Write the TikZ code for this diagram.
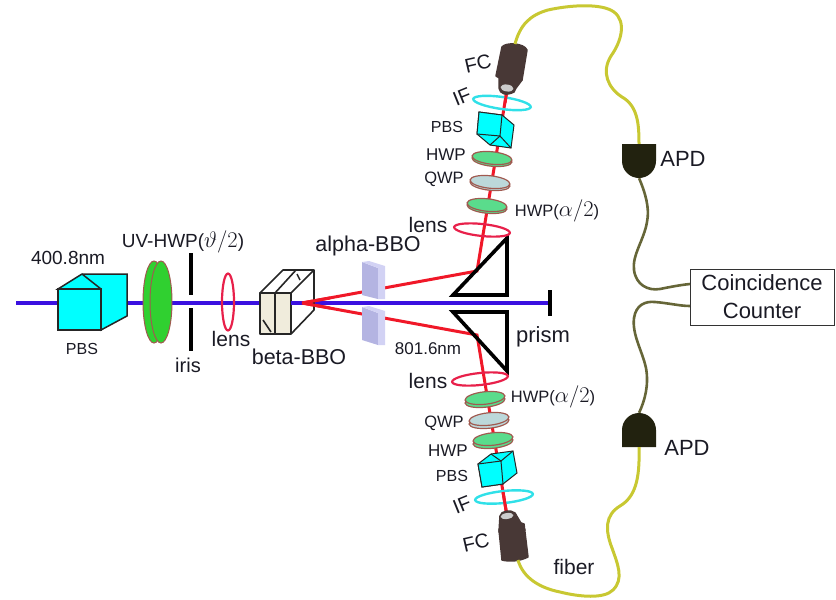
\documentclass[tikz,border=0pt]{standalone}
\usepackage{graphicx}
\usepackage{fontspec}
\setmainfont{Liberation Sans}
\usetikzlibrary{shapes.geometric}
\definecolor{beamblue}{HTML}{3A10E0}
\definecolor{beamred}{HTML}{F01828}
\definecolor{lensred}{HTML}{E8204A}
\definecolor{pbscyan}{HTML}{00FFFF}
\definecolor{uvgreen}{HTML}{30D030}
\definecolor{platebrown}{HTML}{A05A50}
\definecolor{hwpgreen}{HTML}{5ADC8C}
\definecolor{qwpgray}{HTML}{BCD8DA}
\definecolor{bbocream}{HTML}{F0ECDC}
\definecolor{alphaface}{HTML}{B4B4E2}
\definecolor{alphaside}{HTML}{D2D2F4}
\definecolor{fcbrown}{HTML}{483836}
\definecolor{fiberyellow}{HTML}{C8C832}
\definecolor{wireolive}{HTML}{666638}
\definecolor{apdblack}{HTML}{22220F}
\definecolor{ifcyan}{HTML}{30E0E8}
\definecolor{labelink}{HTML}{1A1A24}
\newcommand{\bigmath}[1]{\scalebox{1.3}{$#1$}}
\tikzset{
  lbl/.style={text=labelink,font=\fontsize{#1}{#1}\selectfont,inner sep=0pt},
  lbl/.default=20,
  beamb/.style={draw=beamblue,line width=3.4pt},
  beamr/.style={draw=beamred,line width=3pt},
  pbsbox/.style={draw=black!85,fill=pbscyan,line join=miter},
  lensring/.style={ellipse,draw=lensred,line width=2.2pt,inner sep=0pt},
  ifring/.style={ellipse,draw=ifcyan,line width=2.4pt,inner sep=0pt},
  plate/.style={ellipse,draw=platebrown,line width=1.2pt,fill=#1,inner sep=0pt,minimum width=40pt,minimum height=12.5pt},
  prismtri/.style={draw=black,line width=3.6pt,line join=miter},
  bbobox/.style={draw=black!85,line width=1.6pt,line join=round},
  alphab/.style={fill=alphaface},
  alphas/.style={fill=alphaside},
  fcbody/.style={fill=fcbrown,draw=fcbrown,line join=round,line width=1.5pt},
  fiber/.style={draw=fiberyellow,line width=3pt},
  wire/.style={draw=wireolive,line width=2.6pt},
  apd/.style={fill=apdblack},
  stopbar/.style={draw=black,line width=4pt},
}
\begin{document}
\begin{tikzpicture}[x=1pt,y=-1pt]
\useasboundingbox (0,0) rectangle (836,600);
% named anchor points
\coordinate (bstart) at (16,303);
\coordinate (bend) at (550,303);
\coordinate (src) at (302,303);
\coordinate (mu) at (477,271);
\coordinate (ml) at (477,335);
\coordinate (fcu) at (507,90);
\coordinate (fcl) at (507,516);
% beams
\draw[beamb] (bstart) -- (bend);
\draw[stopbar] (550,290) -- (550,316);
\draw[beamr] (src) -- (mu) -- (fcu);
\draw[beamr] (src) -- (ml) -- (fcl);
% input PBS
\draw[pbsbox,line width=1.5pt] (58,289) -- (82,274) -- (127,274) -- (127,316) -- (101,330) -- (101,289) -- cycle;
\draw[draw=black!85,line width=1.5pt] (82,274) -- (101,289);
\draw[pbsbox,line width=2.4pt] (58,289) rectangle (101,330);
\node[lbl=16] (pbs0) at (82,349) {PBS};
\node[lbl=19] (wl) at (68,258) {400.8nm};
% UV-HWP
\node[ellipse,draw=platebrown,line width=1pt,fill=uvgreen,inner sep=0pt,minimum width=22pt,minimum height=82pt] (uvback) at (154,302) {};
\node[ellipse,draw=platebrown,line width=1pt,fill=uvgreen,inner sep=0pt,minimum width=22pt,minimum height=82pt] (uvfront) at (161,302) {};
\node[lbl=19] (uvl) at (183,242) {UV-HWP(\bigmath{\vartheta/2})};
% iris
\draw[stopbar] (191,253) -- (191,295);
\draw[stopbar] (191,308) -- (191,351);
\node[lbl=20] (iris) at (188,365) {iris};
% lens
\node[lensring,minimum width=12pt,minimum height=57pt] (lens0) at (228,302) {};
\node[lbl=21] (lensl0) at (231,339) {lens};
% beta-BBO
\draw[bbobox] (260,293) -- (283,270) -- (314,270) -- (314,310) -- (291,334);
\draw[bbobox] (275,293) -- (296,270);
\draw[bbobox] (291,293) -- (314,270);
\draw[bbobox,fill=bbocream] (260,293) rectangle (275,334);
\draw[bbobox,fill=bbocream] (275,293) rectangle (291,334);
\draw[black!85,line width=1.6pt] (263,320) -- (271,332);
\draw[black!85,line width=1.4pt] (297,274) -- (300,280);
\draw[beamb] (291,303) -- (305,303);
\draw[beamr] (src) -- (330,298);
\draw[beamr] (src) -- (330,308);
\node[lbl=21.5] (bbol) at (299,357) {beta-BBO};
% alpha-BBO
\fill[alphab] (362,262) -- (378,268) -- (378,299) -- (362,295) -- cycle;
\fill[alphas] (362,262) -- (369,261) -- (385,266) -- (385,299) -- (378,299) -- (378,268) -- cycle;
\fill[alphab] (362,307) -- (378,313) -- (378,345) -- (362,340) -- cycle;
\fill[alphas] (362,307) -- (369,306) -- (385,311) -- (385,345) -- (378,345) -- (378,313) -- cycle;
\node[lbl=21.5] (abbol) at (368,246) {alpha-BBO};
\node[lbl=17] (wl2) at (428,349) {801.6nm};
% prisms
\draw[prismtri] (453,295) -- (507,295) -- (507,238) -- cycle;
\draw[prismtri] (453,312) -- (507,312) -- (507,371) -- cycle;
\node[lbl=22] (prism) at (543,337) {prism};
% upper arm
\node[lensring,minimum width=56pt,minimum height=12pt,rotate=-6] (lensu) at (482,230) {};
\node[lbl=21] (lenslu) at (428,225) {lens};
\node[plate=hwpgreen,rotate=-6] at (487,207) {};
\node[plate=hwpgreen,rotate=-6] (hwpu2) at (487,205) {};
\node[lbl=16.5] (hwpl2) at (557,211) {HWP(\bigmath{\alpha/2})};
\node[plate=qwpgray,rotate=-6] at (490,184) {};
\node[plate=qwpgray,rotate=-6] (qwpu) at (490,182) {};
\node[lbl=16.5] (qwpl) at (444,179) {QWP};
\node[plate=hwpgreen,rotate=-6] at (492,160) {};
\node[plate=hwpgreen,rotate=-6] (hwpu) at (492,158) {};
\node[lbl=17] (hwpl) at (446,155) {HWP};
\draw[pbsbox,line width=1pt] (479,112) -- (502,115) -- (514,125) -- (511,148) -- (490,145) -- (477,134) -- cycle;
\fill[pbscyan] (479,112) -- (502,115) -- (500,136) -- (477,134) -- cycle;
\draw[black!85,line width=1pt] (479,112) -- (502,115) -- (500,136) -- (477,134) -- cycle;
\draw[black!85,line width=1pt] (500,136) -- (490,145);
\draw[black!85,line width=1pt] (500,136) -- (511,148);
\node[lbl=16] (pbsl) at (447,127) {PBS};
\node[ifring,minimum width=58pt,minimum height=12pt,rotate=-8] (ifu) at (502,103) {};
\draw[beamr] (505,103) -- (fcu);
\node[lbl=20,rotate=22] (ifl) at (462,97) {IF};
\fill[fcbody] (499,76) -- (522,80) -- (516,88) -- (514,92) .. controls (506,96) and (500,94) .. (499,88) -- cycle;
\draw[fcbody] (502,47) .. controls (506,42) and (524,43) .. (527,50) -- (522,80) .. controls (512,82) and (502,80) .. (496,76) -- cycle;
\node[ellipse,fill=black!20,inner sep=0pt,minimum width=13pt,minimum height=7pt,rotate=-8] (fcueye) at (507,88) {};
\node[lbl=20,rotate=13] (fcl1) at (478,64) {FC};
% lower arm
\node[lensring,minimum width=56pt,minimum height=12pt,rotate=6] (lensl) at (480,379) {};
\node[lbl=21] (lensll) at (428,381) {lens};
\node[plate=hwpgreen,rotate=6] at (485,401) {};
\node[plate=hwpgreen,rotate=6] (hwpl3) at (485,398) {};
\node[lbl=16.5] (hwpl4) at (553,397) {HWP(\bigmath{\alpha/2})};
\node[plate=qwpgray,rotate=6] at (489,422) {};
\node[plate=qwpgray,rotate=6] (qwpd) at (489,419) {};
\node[lbl=16.5] (qwpl2) at (444,423) {QWP};
\node[plate=hwpgreen,rotate=6] at (493,442) {};
\node[plate=hwpgreen,rotate=6] (hwpd) at (493,439) {};
\node[lbl=17] (hwpl5) at (448,451) {HWP};
\draw[pbsbox,line width=1pt] (478,464) -- (491,454) -- (513,451) -- (517,473) -- (503,484) -- (482,487) -- cycle;
\fill[pbscyan] (478,464) -- (501,461) -- (503,484) -- (482,487) -- cycle;
\draw[black!85,line width=1pt] (478,464) -- (501,461) -- (503,484) -- (482,487) -- cycle;
\draw[black!85,line width=1pt] (491,454) -- (501,461) -- (513,451);
\node[lbl=16] (pbsl2) at (452,476) {PBS};
\node[ifring,minimum width=58pt,minimum height=12pt,rotate=6] (ifd) at (504,497) {};
\draw[beamr] (503,492) -- (fcl);
\node[lbl=20,rotate=22] (ifl2) at (462,505) {IF};
\fill[fcbody] (500,516) .. controls (501,511) and (510,509) .. (515,513) -- (525,530) -- (499,532) -- cycle;
\draw[fcbody] (499,530) .. controls (506,523) and (518,521) .. (524,524) -- (528,557) .. controls (520,561) and (510,562) .. (502,560) -- cycle;
\node[ellipse,fill=black!20,inner sep=0pt,minimum width=13pt,minimum height=6pt,rotate=8] (fcleye) at (507,516) {};
\node[lbl=20,rotate=13] (fcl2) at (476,543) {FC};
% APDs
\fill[apd] (622,144) -- (656,144) -- (656,161) arc[start angle=0,end angle=180,radius=17] -- cycle;
\node[inner sep=0pt,minimum size=0pt] (apdu) at (639,178) {};
\node[inner sep=0pt,minimum size=0pt] (apduin) at (639,144) {};
\fill[apd] (622,447) -- (656,447) -- (656,430) arc[start angle=0,end angle=-180,radius=17] -- cycle;
\node[inner sep=0pt,minimum size=0pt] (apdd) at (639,413) {};
\node[inner sep=0pt,minimum size=0pt] (apddin) at (639,447) {};
\node[lbl=22] (apdl1) at (683,159) {APD};
\node[lbl=22] (apdl2) at (687,448) {APD};
% counter
\node[draw=black!80,line width=1pt,fill=white,minimum width=144pt,minimum height=56pt,inner sep=0pt,align=center,text=labelink,font=\fontsize{22}{28}\selectfont] (cc) at (762,297) {Coincidence\\Counter};
\coordinate (ccu) at (690,284);
\coordinate (ccd) at (690,306);
% wires
\draw[wire] (apdu) .. controls (645,192) and (650,208) .. (647,222) .. controls (644,240) and (632,255) .. (634,270) .. controls (636,285) and (648,291) .. (660,289) .. controls (670,287) and (680,285) .. (ccu);
\draw[wire] (apdd) .. controls (645,400) and (649,385) .. (646,368) .. controls (642,350) and (632,335) .. (634,318) .. controls (636,305) and (645,301) .. (655,302) .. controls (668,303) and (680,306) .. (ccd);
% fibres
\coordinate (fcutop) at (515,44);
\coordinate (fcdbot) at (518,560);
\draw[fiber] (fcutop) .. controls (520,25) and (530,15) .. (548,10) .. controls (570,5) and (602,3) .. (614,12) .. controls (627,22) and (621,42) .. (611,56) .. controls (601,72) and (608,88) .. (622,97) .. controls (638,106) and (639,125) .. (apduin);
\draw[fiber] (fcdbot) .. controls (523,578) and (540,588) .. (560,592) .. controls (580,597) and (604,599) .. (613,590) .. controls (624,579) and (618,565) .. (612,548) .. controls (605,530) and (605,515) .. (620,506) .. controls (635,497) and (640,480) .. (apddin);
\node[lbl=21] (fiberl) at (574,567) {fiber};
\end{tikzpicture}
\end{document}
